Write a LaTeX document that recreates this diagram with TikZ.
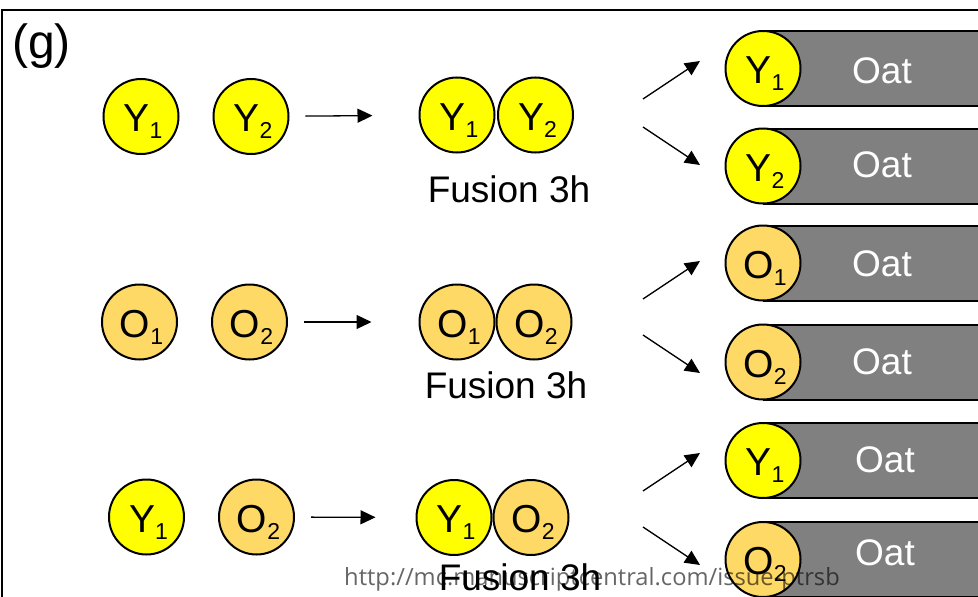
\documentclass[tikz,border=0pt]{standalone}
\usepackage{fontspec}
\setmainfont{Liberation Sans}
\newfontfamily\wmfont{Open Sans}
\usetikzlibrary{arrows.meta}
\definecolor{cyel}{HTML}{FFFF00}
\definecolor{corg}{HTML}{FFD966}
\definecolor{cbar}{HTML}{808080}
\newcommand\cellab[2]{\kern4pt #1\raisebox{-7pt}{\fontsize{23}{23}\selectfont #2}}
\tikzset{
  cell/.style={circle, draw=black, line width=2pt, minimum size=75pt, inner sep=0pt,
    text height=30pt, text depth=0pt, font=\fontsize{39}{39}\selectfont},
  ycell/.style={cell, fill=cyel},
  ocell/.style={cell, fill=corg},
  bar/.style={rectangle, draw=black, line width=2pt, fill=cbar, minimum width=240pt,
    minimum height=75pt, inner sep=0pt, anchor=west},
  oat/.style={anchor=base, text=white, font=\fontsize{37}{37}\selectfont, inner sep=0pt},
  fus/.style={anchor=base, font=\fontsize{37}{37}\selectfont, inner sep=0pt},
  arr/.style={line width=1.3pt, -{Triangle[length=15pt, width=14pt]}},
}
\begin{document}
\begin{tikzpicture}[x=1pt, y=-1pt]
\useasboundingbox (0,0) rectangle (978,597);
% frame
\draw[line width=2.5pt] (2,600) -- (2,10) -- (980,10);
\node[anchor=base west, inner sep=0pt, font=\fontsize{48}{48}\selectfont] (lbl) at (12,58) {(g)};

% ---- row 1
\node[ycell] (r1a) at (141,116.5) {\cellab{Y}{1}};
\node[ycell] (r1b) at (251,116.5) {\cellab{Y}{2}};
\node[ycell] (f1a) at (457,115) {\cellab{Y}{1}};
\node[ycell] (f1b) at (535.5,115) {\cellab{Y}{2}};
\node[fus] (t1) at (509,202) {Fusion 3h};
\draw[arr, shorten <=16pt, shorten >=46pt] (r1b) -- (f1a);

% ---- row 2
\node[ocell] (r2a) at (139.5,322) {\cellab{O}{1}};
\node[ocell] (r2b) at (249.5,322) {\cellab{O}{2}};
\node[ocell] (f2a) at (457,322) {\cellab{O}{1}};
\node[ocell] (f2b) at (534,322) {\cellab{O}{2}};
\node[fus] (t2) at (506,398) {Fusion 3h};
\draw[arr, shorten <=16pt, shorten >=47pt] (r2b) -- (f2a);

% ---- row 3
\node[ycell] (r3a) at (146.5,517) {\cellab{Y}{1}};
\node[ocell] (r3b) at (256.5,517) {\cellab{O}{2}};
\node[ycell] (f3a) at (454,517.5) {\cellab{Y}{1}};
\node[ocell] (f3b) at (531,517.5) {\cellab{O}{2}};
\node[fus] (t3) at (520,590) {Fusion 3h};
\draw[arr, shorten <=16pt, shorten >=40pt] (r3b) -- (f3a);

% ---- oat bars
\node[bar] (b1) at (763,68.5) {};
\node[bar] (b2) at (763,166) {};
\node[bar] (b3) at (763,263) {};
\node[bar] (b4) at (763,362) {};
\node[bar] (b5) at (763,460.5) {};
\node[bar] (b6) at (763,559.5) {};
\node[ycell] (c1) at (763,68.5) {\cellab{Y}{1}};
\node[ycell] (c2) at (763,166) {\cellab{Y}{2}};
\node[ocell] (c3) at (763,263) {\cellab{O}{1}};
\node[ocell] (c4) at (763,362) {\cellab{O}{2}};
\node[ycell] (c5) at (763,460.5) {\cellab{Y}{1}};
\node[ocell] (c6) at (763,559.5) {\cellab{O}{2}};
\node[oat] (o1) at (882,83) {Oat};
\node[oat] (o2) at (882,177) {Oat};
\node[oat] (o3) at (882,276) {Oat};
\node[oat] (o4) at (882,374) {Oat};
\node[oat] (o5) at (885,472) {Oat};
\node[oat] (o6) at (885,565) {Oat};

% ---- branch arrows
\coordinate (s1u) at (643,99);  \coordinate (e1u) at (700,61);
\coordinate (s1d) at (643,127); \coordinate (e1d) at (700,165);
\coordinate (s2u) at (643,299); \coordinate (e2u) at (700,261);
\coordinate (s2d) at (643,335); \coordinate (e2d) at (700,373);
\coordinate (s3u) at (643,491); \coordinate (e3u) at (700,453);
\coordinate (s3d) at (643,527); \coordinate (e3d) at (700,565);
\foreach \a/\b in {s1u/e1u, s1d/e1d, s2u/e2u, s2d/e2d, s3u/e3u, s3d/e3d}
  \draw[arr] (\a) -- (\b);

% ---- watermark
\node[anchor=base west, inner sep=0pt, text=black, text opacity=0.6,
  font=\wmfont\fontsize{23.7}{23.7}\selectfont] (wm) at (344,585)
  {http://mc.manuscriptcentral.com/issue-ptrsb};
\end{tikzpicture}
\end{document}
